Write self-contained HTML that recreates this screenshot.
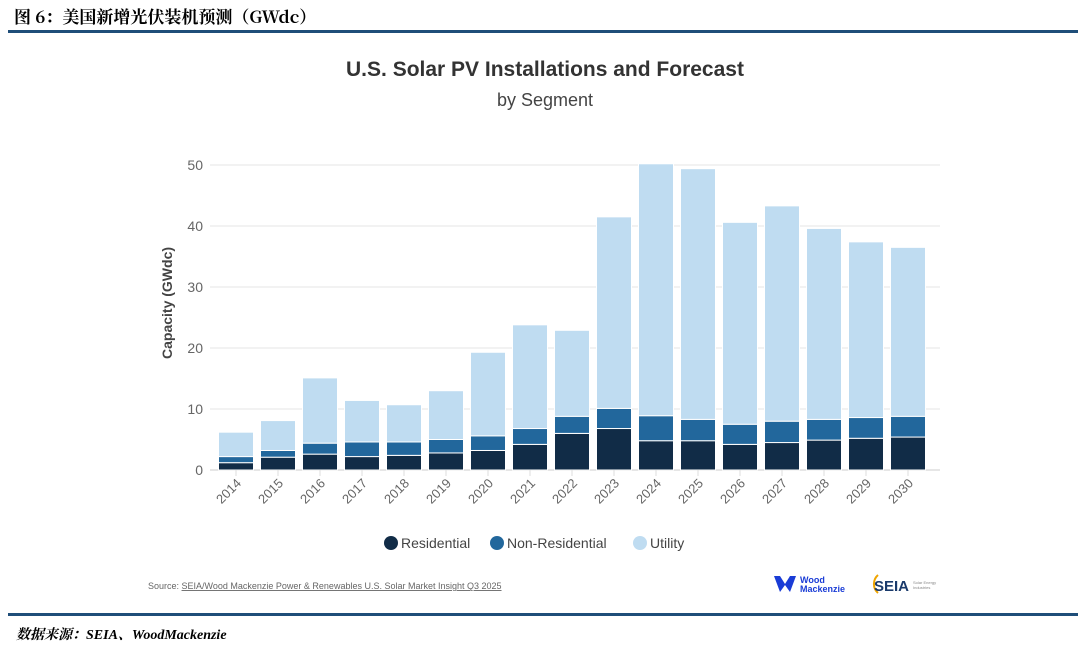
<!DOCTYPE html>
<html><head><meta charset="utf-8"><style>
body{margin:0;width:1080px;height:645px;background:#fff;font-family:"Liberation Sans",sans-serif;position:relative;overflow:hidden}
.hdr{position:absolute;left:14px;top:3px;font:bold 17px "Noto Serif CJK SC","Noto Sans CJK SC",serif;color:#000}
.rule{position:absolute;left:8px;width:1070px;height:3px;background:#1f4e79}
.ftr{position:absolute;left:16px;top:624px;font:italic bold 14px "Liberation Serif","Noto Serif CJK SC",serif}
</style></head><body>
<div class="hdr">图 6：美国新增光伏装机预测（GWdc）</div>
<div class="rule" style="top:30px"></div>
<div class="rule" style="top:613px"></div>
<div class="ftr">数据来源：SEIA、WoodMackenzie</div>
<svg id="c" width="1080" height="645" style="position:absolute;left:0;top:0">
<text x="545" y="76" text-anchor="middle" font-size="21" font-weight="bold" fill="#333">U.S. Solar PV Installations and Forecast</text>
<text x="545" y="106" text-anchor="middle" font-size="18" fill="#444">by Segment</text>
<text transform="translate(172,303) rotate(-90)" text-anchor="middle" font-size="14" font-weight="bold" fill="#444">Capacity (GWdc)</text>
<g id="plot"></g>
<g>
<circle cx="391" cy="543" r="7" fill="#112c47"/><text x="401" y="548" font-size="14" fill="#444">Residential</text>
<circle cx="497" cy="543" r="7" fill="#22679c"/><text x="507" y="548" font-size="14" fill="#444">Non-Residential</text>
<circle cx="640" cy="543" r="7" fill="#bfdcf1"/><text x="650" y="548" font-size="14" fill="#444">Utility</text>
</g>
<text x="148" y="589" font-size="9" fill="#666">Source: <tspan text-decoration="underline">SEIA/Wood Mackenzie Power &amp; Renewables U.S. Solar Market Insight Q3 2025</tspan></text>
<g><path d="M774 576 l6 0 l5 8 l5 -8 l6 0 l-6 16 l-5 -7 l-5 7 z" fill="#1a3cd6"/><text x="800" y="583" font-size="9" font-weight="bold" fill="#1a3cd6">Wood</text><text x="800" y="592" font-size="9" font-weight="bold" fill="#1a3cd6">Mackenzie</text></g>
<g><path d="M878 575 a12 12 0 0 0 0 18" stroke="#f0a500" stroke-width="2" fill="none"/><text x="874" y="591" font-size="15" font-weight="bold" fill="#1a3a6b">SEIA</text><text x="913" y="584" font-size="4" fill="#888">Solar Energy</text><text x="913" y="589" font-size="4" fill="#888">Industries</text></g>
</svg>
<script>
const years=["2014","2015","2016","2017","2018","2019","2020","2021","2022","2023","2024","2025","2026","2027","2028","2029","2030"];
const residential=[1.2,2.1,2.6,2.2,2.4,2.8,3.2,4.2,6.0,6.8,4.8,4.8,4.2,4.5,4.9,5.2,5.4];
const nonResidential=[1.0,1.1,1.8,2.4,2.2,2.2,2.4,2.6,2.8,3.3,4.1,3.5,3.3,3.5,3.4,3.4,3.4];
const utility=[4.0,4.9,10.7,6.8,6.1,8.0,13.7,17.0,14.1,31.4,41.3,41.1,33.1,35.3,31.3,28.8,27.7];
const yTicks=[0,10,20,30,40,50];
const NS="http://www.w3.org/2000/svg",g=document.getElementById('plot');
const y=v=>470-v*6.1, x=i=>236+i*42, bw=35;
function mk(t,a){const e=document.createElementNS(NS,t);for(const k in a)e.setAttribute(k,a[k]);g.appendChild(e);return e;}
yTicks.forEach(t=>{const l=mk('line',{x1:210,x2:940,y1:y(t),y2:y(t),stroke:t?'#eee':'#ddd','stroke-width':1.5});


const tx=mk('text',{x:203,y:y(t)+5,'text-anchor':'end','font-size':14,fill:'#666'});tx.textContent=t;

});
years.forEach((yr,i)=>{
 const segs=[[residential[i],'#112c47','residential'],[nonResidential[i],'#22679c','non-residential'],[utility[i],'#bfdcf1','utility']];
 let base=0;
 segs.forEach(s=>{const r=mk('rect',{x:x(i)-bw/2,y:y(base+s[0]),width:bw,height:s[0]*6.1,fill:s[1],stroke:'#fff','stroke-width':1});
 
 
 base+=s[0];});
 const tk=mk('line',{x1:x(i),x2:x(i),y1:470,y2:476,stroke:'#ddd'});
 
 
 const t=mk('text',{transform:`translate(${x(i)+6},${484}) rotate(-45)`,'text-anchor':'end','font-size':13,fill:'#666'});t.textContent=yr;
 
 
});
</script>
</body></html>
